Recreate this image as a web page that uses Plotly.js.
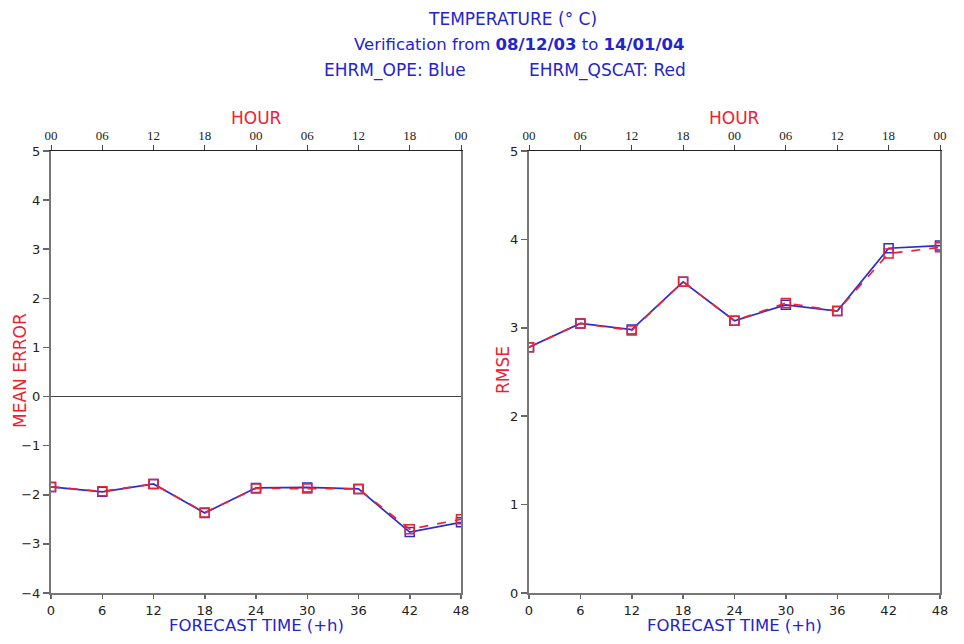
<!DOCTYPE html>
<html>
<head>
<meta charset="utf-8">
<script src="https://cdn.plot.ly/plotly-3.0.1.min.js"></script>
<style>html,body{margin:0;padding:0;background:#fff}#chart{width:964px;height:644px}</style>
</head>
<body>
<div id="chart"></div>
<script>
const hours = [0, 6, 12, 18, 24, 30, 36, 42, 48];
const hourLabels = ['00', '06', '12', '18', '00', '06', '12', '18', '00'];
const meOpe   = [-1.84, -1.94, -1.78, -2.37, -1.86, -1.85, -1.88, -2.76, -2.56];
const meQscat = [-1.84, -1.93, -1.78, -2.36, -1.87, -1.87, -1.88, -2.70, -2.50];
const rmseOpe   = [2.78, 3.05, 2.98, 3.52, 3.08, 3.26, 3.19, 3.90, 3.93];
const rmseQscat = [2.78, 3.05, 2.97, 3.52, 3.08, 3.28, 3.19, 3.84, 3.91];
const yTicksME = [-4, -3, -2, -1, 0, 1, 2, 3, 4, 5];
const yTicksRMSE = [0, 1, 2, 3, 4, 5];

const BLUE = '#2b2bd6';
const RED = '#ec2230';
const TXTBLUE = '#2424cc';
const SANS = 'DejaVu Sans, Verdana, sans-serif';
const SERIF = 'Liberation Serif, DejaVu Serif, serif';

const W = 964, H = 644;
const px = v => v / W;
const py = v => (H - v) / H;

const yDom = [py(593), py(151)];
const xDomL = [px(51), px(461)];
const xDomR = [px(529), px(940)];

function tr(x, y, color, dash, xa, ya) {
  return {
    x: x, y: y, xaxis: xa, yaxis: ya, type: 'scatter', mode: 'lines+markers',
    line: {color: color, width: 1.7, dash: dash},
    marker: {symbol: 'square-open', size: 9, color: color, line: {width: 1.5, color: color}},
    showlegend: false, hoverinfo: 'skip'
  };
}

const data = [
  tr(hours, meOpe, BLUE, 'solid', 'x', 'y'),
  tr(hours, meQscat, RED, 'dash', 'x', 'y'),
  tr(hours, rmseOpe, BLUE, 'solid', 'x3', 'y2'),
  tr(hours, rmseQscat, RED, 'dash', 'x3', 'y2'),
  {x: hours, y: meOpe, xaxis: 'x2', yaxis: 'y', mode: 'none', type: 'scatter', showlegend: false, hoverinfo: 'skip'},
  {x: hours, y: rmseOpe, xaxis: 'x4', yaxis: 'y2', mode: 'none', type: 'scatter', showlegend: false, hoverinfo: 'skip'}
];

const bottomX = (dom, anchor) => ({
  domain: dom, anchor: anchor, range: [0, 48], tickvals: hours, ticktext: hours.map(String),
  ticks: 'outside', ticklen: 4, tickcolor: '#666', tickwidth: 1.5,
  showline: true, linecolor: '#777', linewidth: 2, showgrid: false, zeroline: false,
  tickfont: {family: SANS, size: 13, color: '#222'}, fixedrange: true
});
const topX = (overlay, anchor) => ({
  overlaying: overlay, side: 'top', anchor: anchor, range: [0, 48], tickvals: hours, ticktext: hourLabels,
  ticks: 'outside', ticklen: 5, tickcolor: '#444', tickwidth: 1,
  showline: true, linecolor: '#222', linewidth: 1, showgrid: false, zeroline: false,
  tickfont: {family: SERIF, size: 13, color: '#222'}, fixedrange: true
});
const leftY = (range, ticks, anchor, zl) => ({
  domain: yDom, anchor: anchor, range: range, tickvals: ticks,
  ticks: 'outside', ticklen: 6, tickcolor: '#666', tickwidth: 1.5,
  showline: true, linecolor: '#777', linewidth: 2, mirror: true, showgrid: false,
  zeroline: zl, zerolinecolor: '#444', zerolinewidth: 1,
  tickfont: {family: SANS, size: 13, color: '#222'}, fixedrange: true
});

const ann = (text, x, y, color, size, angle, extra) => Object.assign({
  text: text, x: x, y: y, xref: 'paper', yref: 'paper', showarrow: false,
  xanchor: 'center', yanchor: 'middle', textangle: angle || 0, borderpad: 0,
  font: {family: SANS, size: size, color: color}
}, extra || {});

const layout = {
  width: W, height: H, margin: {l: 0, r: 0, t: 0, b: 0},
  paper_bgcolor: '#fff', plot_bgcolor: '#fff', showlegend: false,
  xaxis: bottomX(xDomL, 'y'),
  xaxis2: topX('x', 'y'),
  xaxis3: bottomX(xDomR, 'y2'),
  xaxis4: topX('x3', 'y2'),
  yaxis: leftY([-4, 5], yTicksME, 'x', true),
  yaxis2: leftY([0, 5], yTicksRMSE, 'x3', false),
  annotations: [
    ann('TEMPERATURE (° C)', px(512), py(19), TXTBLUE, 17),
    ann('Verification from <b>08/12/03</b> to <b>14/01/04</b>', px(519), py(45), TXTBLUE, 16.5),
    ann('EHRM_OPE: Blue', px(395), py(70), TXTBLUE, 17),
    ann('EHRM_QSCAT: Red', px(607), py(70), TXTBLUE, 17),
    ann('HOUR', px(256), py(118), RED, 17),
    ann('HOUR', px(734), py(118), RED, 17),
    ann('FORECAST TIME (+h)', px(256), py(625), TXTBLUE, 16.5),
    ann('FORECAST TIME (+h)', px(734), py(625), TXTBLUE, 16.5),
    ann('MEAN ERROR', px(20), py(371), RED, 17, -90),
    ann('RMSE', px(503), py(370), RED, 17, -90)
  ]
};

Plotly.newPlot('chart', data, layout, {staticPlot: true, displayModeBar: false});
</script>
</body>
</html>
